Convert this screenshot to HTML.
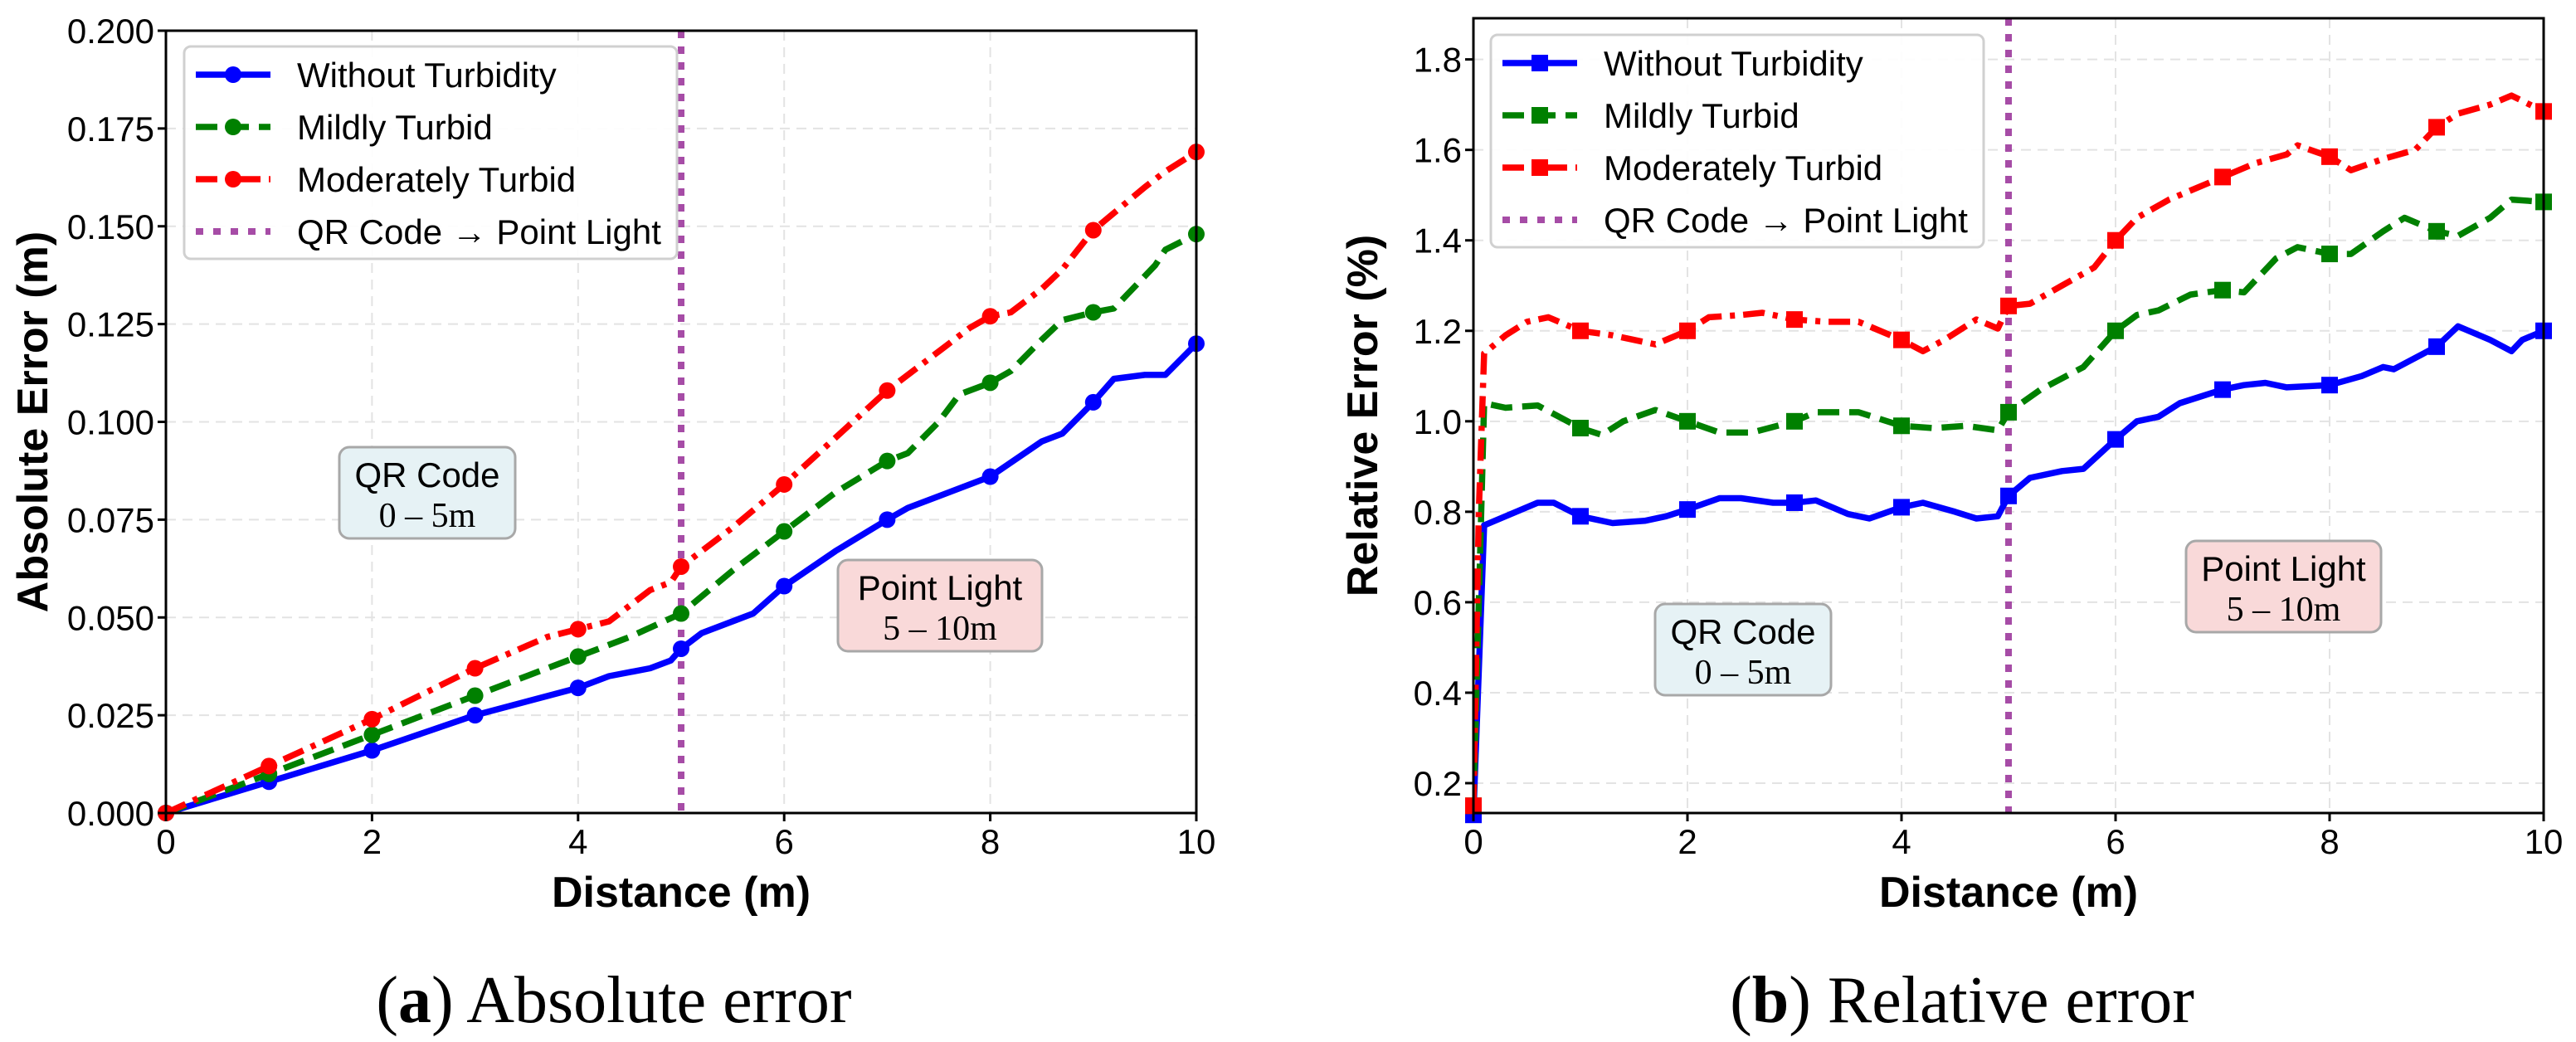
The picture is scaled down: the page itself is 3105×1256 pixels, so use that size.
<!DOCTYPE html>
<html><head><meta charset="utf-8"><style>
html,body{margin:0;padding:0;background:#fff;}
svg{display:block;font-family:"Liberation Sans",sans-serif;}
</style></head><body>
<svg id="fig" width="3105" height="1256" viewBox="0 0 3105 1256" xmlns="http://www.w3.org/2000/svg"></svg>
<script>
// ---- Chart A data (absolute error) ----
const aBlueX=[0,1,2,3,4,4.3,4.7,4.9,5,5.2,5.7,6,6.5,7,7.2,7.5,8,8.5,8.7,9,9.2,9.5,9.7,10];
const aBlueY=[0,0.008,0.016,0.025,0.032,0.035,0.037,0.039,0.042,0.046,0.051,0.058,0.067,0.075,0.078,0.081,0.086,0.095,0.097,0.105,0.111,0.112,0.112,0.120];
const aGreenX=[0,1,2,3,4,4.5,5,5.5,6,6.5,7,7.2,7.5,7.7,8,8.2,8.5,8.7,9,9.2,9.6,9.7,10];
const aGreenY=[0,0.010,0.020,0.030,0.040,0.045,0.051,0.062,0.072,0.082,0.090,0.092,0.100,0.107,0.110,0.113,0.121,0.126,0.128,0.129,0.140,0.144,0.148];
const aRedX=[0,1,2,3,3.7,4,4.3,4.7,4.9,5,5.5,6,6.5,7,7.5,7.8,8,8.2,8.5,8.7,9,9.5,9.7,10];
const aRedY=[0,0.012,0.024,0.037,0.045,0.047,0.049,0.057,0.059,0.063,0.073,0.084,0.096,0.108,0.118,0.124,0.127,0.128,0.134,0.139,0.149,0.160,0.164,0.169];
const aYTicks=[0,0.025,0.05,0.075,0.1,0.125,0.15,0.175,0.2];
const aYTickLabels=["0.000","0.025","0.050","0.075","0.100","0.125","0.150","0.175","0.200"];
// ---- Chart B data (relative error) ----
const bBlueX=[0,0.05,0.1,0.3,0.6,0.75,1,1.3,1.6,1.8,2,2.3,2.5,2.8,3,3.2,3.5,3.7,4,4.2,4.5,4.7,4.9,5,5.2,5.5,5.7,6,6.2,6.4,6.6,7,7.2,7.4,7.6,8,8.3,8.5,8.6,9,9.2,9.5,9.7,9.8,10];
const bBlueY=[0.13,0.45,0.77,0.79,0.82,0.82,0.79,0.775,0.78,0.79,0.805,0.83,0.83,0.82,0.82,0.825,0.795,0.785,0.81,0.82,0.8,0.785,0.79,0.835,0.875,0.89,0.895,0.96,1.0,1.01,1.04,1.07,1.08,1.085,1.075,1.08,1.1,1.12,1.115,1.165,1.21,1.18,1.155,1.18,1.2];
const bGreenX=[0,0.05,0.1,0.3,0.6,1,1.2,1.4,1.7,2,2.3,2.6,3,3.2,3.6,4,4.3,4.6,4.9,5,5.3,5.7,6,6.2,6.4,6.7,7,7.2,7.5,7.7,8,8.2,8.5,8.7,9,9.2,9.5,9.7,10];
const bGreenY=[0.15,0.6,1.04,1.03,1.035,0.985,0.97,1.0,1.025,1.0,0.975,0.975,1.0,1.02,1.02,0.99,0.985,0.99,0.98,1.02,1.07,1.12,1.2,1.235,1.245,1.28,1.29,1.285,1.36,1.385,1.37,1.37,1.42,1.45,1.42,1.41,1.45,1.49,1.485];
const bRedX=[0,0.05,0.1,0.3,0.5,0.7,1,1.3,1.7,2,2.2,2.5,2.7,3,3.3,3.6,4,4.2,4.4,4.7,4.9,5,5.2,5.5,5.8,6,6.2,6.5,7,7.3,7.6,7.7,8,8.2,8.5,8.8,9,9.2,9.5,9.7,10];
const bRedY=[0.15,0.8,1.15,1.19,1.22,1.23,1.2,1.19,1.17,1.2,1.23,1.235,1.24,1.225,1.22,1.22,1.18,1.155,1.18,1.225,1.205,1.255,1.26,1.3,1.34,1.4,1.45,1.49,1.54,1.57,1.59,1.61,1.585,1.555,1.58,1.6,1.65,1.68,1.7,1.72,1.685];
const bYTicks=[0.2,0.4,0.6,0.8,1.0,1.2,1.4,1.6,1.8];
const bYTickLabels=["0.2","0.4","0.6","0.8","1.0","1.2","1.4","1.6","1.8"];
const xTicks=[0,2,4,6,8,10];
const legendLabels=["Without Turbidity","Mildly Turbid","Moderately Turbid","QR Code \u2192 Point Light"];

const NS="http://www.w3.org/2000/svg";
const fig=document.getElementById('fig');
function mk(tag,attrs,parent,text){const e=document.createElementNS(NS,tag);for(const k in attrs)e.setAttribute(k,attrs[k]);if(text!==undefined)e.textContent=text;(parent||fig).appendChild(e);return e;}

const STY=[
 {c:'#0000ff',d:''},
 {c:'#008000',d:'26,12'},
 {c:'#ff0000',d:'26,10,6,10'}
];

function chart(cfg){
  const g=mk('g',{});
  
  
  const L=cfg.L,R=cfg.R,T=cfg.T,B=cfg.B;
  const sx=v=>L+(v-0)/(10-0)*(R-L);
  const sy=v=>B-(v-cfg.ymin)/(cfg.ymax-cfg.ymin)*(B-T);
  xTicks.forEach(t=>{const l=mk('line',{x1:sx(t),x2:sx(t),y1:T,y2:B,stroke:'#e3e3e3','stroke-width':2,'stroke-dasharray':'12,8'},g);
    });
  cfg.yt.forEach(t=>{const l=mk('line',{x1:L,x2:R,y1:sy(t),y2:sy(t),stroke:'#e3e3e3','stroke-width':2,'stroke-dasharray':'12,8'},g);
    });
  const series=[[cfg.s[0],cfg.s[1]],[cfg.s[2],cfg.s[3]],[cfg.s[4],cfg.s[5]]];
  const clip=mk('clipPath',{id:cfg.name+'-clip'},g);mk('rect',{x:L,y:T,width:R-L,height:B-T},clip);
  const dv=mk('line',{x1:sx(5),x2:sx(5),y1:T,y2:B,stroke:'#a64ca6','stroke-width':8,'stroke-dasharray':'9,10'},g);
  
  series.forEach((s,i)=>{
    const xs=s[0],ys=s[1];
    const pts=xs.map((x,j)=>sx(x).toFixed(1)+','+sy(ys[j]).toFixed(1)).join(' ');
    const p=mk('polyline',{points:pts,fill:'none',stroke:STY[i].c,'stroke-width':7.5,'stroke-dasharray':STY[i].d,'stroke-linejoin':'round','clip-path':'url(#'+cfg.name+'-clip)'},g);
    
    xs.forEach((x,j)=>{ if(Number.isInteger(x)){
      let m;
      if(cfg.sq) m=mk('rect',{x:sx(x)-10,y:sy(ys[j])-10,width:20,height:20,fill:STY[i].c},g);
      else m=mk('circle',{cx:sx(x),cy:sy(ys[j]),r:10,fill:STY[i].c},g);
      
    }});
  });
  const fr=mk('rect',{x:L,y:T,width:R-L,height:B-T,fill:'none',stroke:'#000','stroke-width':3},g);
  
  xTicks.forEach(t=>{mk('line',{x1:sx(t),x2:sx(t),y1:B,y2:B+10,stroke:'#000','stroke-width':3},g);
    const tx=mk('text',{x:sx(t),y:B+49,'font-size':42,'text-anchor':'middle'},g,String(t));
    });
  cfg.yt.forEach((t,i)=>{mk('line',{x1:L-10,x2:L,y1:sy(t),y2:sy(t),stroke:'#000','stroke-width':3},g);
    const tx=mk('text',{x:L-14,y:sy(t)+15,'font-size':42,'text-anchor':'end'},g,cfg.ytl[i]);
    });
  const xt=mk('text',{x:(L+R)/2,y:1093,'font-size':52,'font-weight':'bold','text-anchor':'middle'},g,'Distance (m)');
  
  const yt=mk('text',{x:0,y:0,'font-size':52,'font-weight':'bold','text-anchor':'middle',transform:`translate(${cfg.ytx},${(T+B)/2}) rotate(-90)`},g,cfg.ytitle);
  
  const lg=mk('g',{},g);
  const lx=cfg.lg[0],ly=cfg.lg[1];
  mk('rect',{x:lx,y:ly,width:594,height:256,rx:8,fill:'#fff','fill-opacity':0.9,stroke:'#d0d0d0','stroke-width':3},lg);
  legendLabels.forEach((lab,i)=>{
    const cy=ly+34+i*63;
    const e=mk('g',{},lg);
    if(i<3){mk('line',{x1:lx+14,x2:lx+104,y1:cy,y2:cy,stroke:STY[i].c,'stroke-width':7.5,'stroke-dasharray':STY[i].d},e);
      if(cfg.sq)mk('rect',{x:lx+49,y:cy-10,width:20,height:20,fill:STY[i].c},e);else mk('circle',{cx:lx+59,cy:cy,r:10,fill:STY[i].c},e);}
    else mk('line',{x1:lx+14,x2:lx+104,y1:cy,y2:cy,stroke:'#a64ca6','stroke-width':8,'stroke-dasharray':'9,12'},e);
    mk('text',{x:lx+136,y:cy+15,'font-size':42},e,lab);
  });
  cfg.ann.forEach(a=>{
    const ag=mk('g',{},g);
    mk('rect',{x:a.x,y:a.y,width:a.w,height:a.h,rx:12,fill:a.f,stroke:'#a8a8a8','stroke-width':3},ag);
    mk('text',{x:a.x+a.w/2,y:a.y+48,'font-size':42,'text-anchor':'middle'},ag,a.t1);
    mk('text',{x:a.x+a.w/2,y:a.y+96,'font-size':42,'text-anchor':'middle','font-family':'Liberation Serif, serif'},ag,a.t2);
  });
  const cp=mk('text',{x:cfg.capx,y:1232,'font-size':80,'text-anchor':'middle','font-family':'Liberation Serif, serif'},g);
  
  mk('tspan',{},cp,'(');mk('tspan',{'font-weight':'bold'},cp,cfg.capl);mk('tspan',{},cp,') '+cfg.capt);
}

chart({name:'absolute-error-chart',L:200,R:1442,T:37,B:980,ymin:0,ymax:0.2,yt:aYTicks,ytl:aYTickLabels,
  s:[aBlueX,aBlueY,aGreenX,aGreenY,aRedX,aRedY],sq:false,ytitle:'Absolute Error (m)',ytx:57,
  lg:[222,56],capx:740,capl:'a',capt:'Absolute error',
  ann:[{n:'qr-code-annotation',x:409,y:539,w:212,h:110,f:'#e6f2f5',t1:'QR Code',t2:'0 \u2013 5m'},
       {n:'point-light-annotation',x:1010,y:675,w:246,h:110,f:'#f9d9d9',t1:'Point Light',t2:'5 \u2013 10m'}]});
chart({name:'relative-error-chart',L:1776,R:3066,T:22,B:980,ymin:0.134,ymax:1.891,yt:bYTicks,ytl:bYTickLabels,
  s:[bBlueX,bBlueY,bGreenX,bGreenY,bRedX,bRedY],sq:true,ytitle:'Relative Error (%)',ytx:1660,
  lg:[1797,42],capx:2365,capl:'b',capt:'Relative error',
  ann:[{n:'qr-code-annotation',x:1995,y:728,w:212,h:110,f:'#e6f2f5',t1:'QR Code',t2:'0 \u2013 5m'},
       {n:'point-light-annotation',x:2635,y:652,w:235,h:110,f:'#f9d9d9',t1:'Point Light',t2:'5 \u2013 10m'}]});
</script>
</body></html>
